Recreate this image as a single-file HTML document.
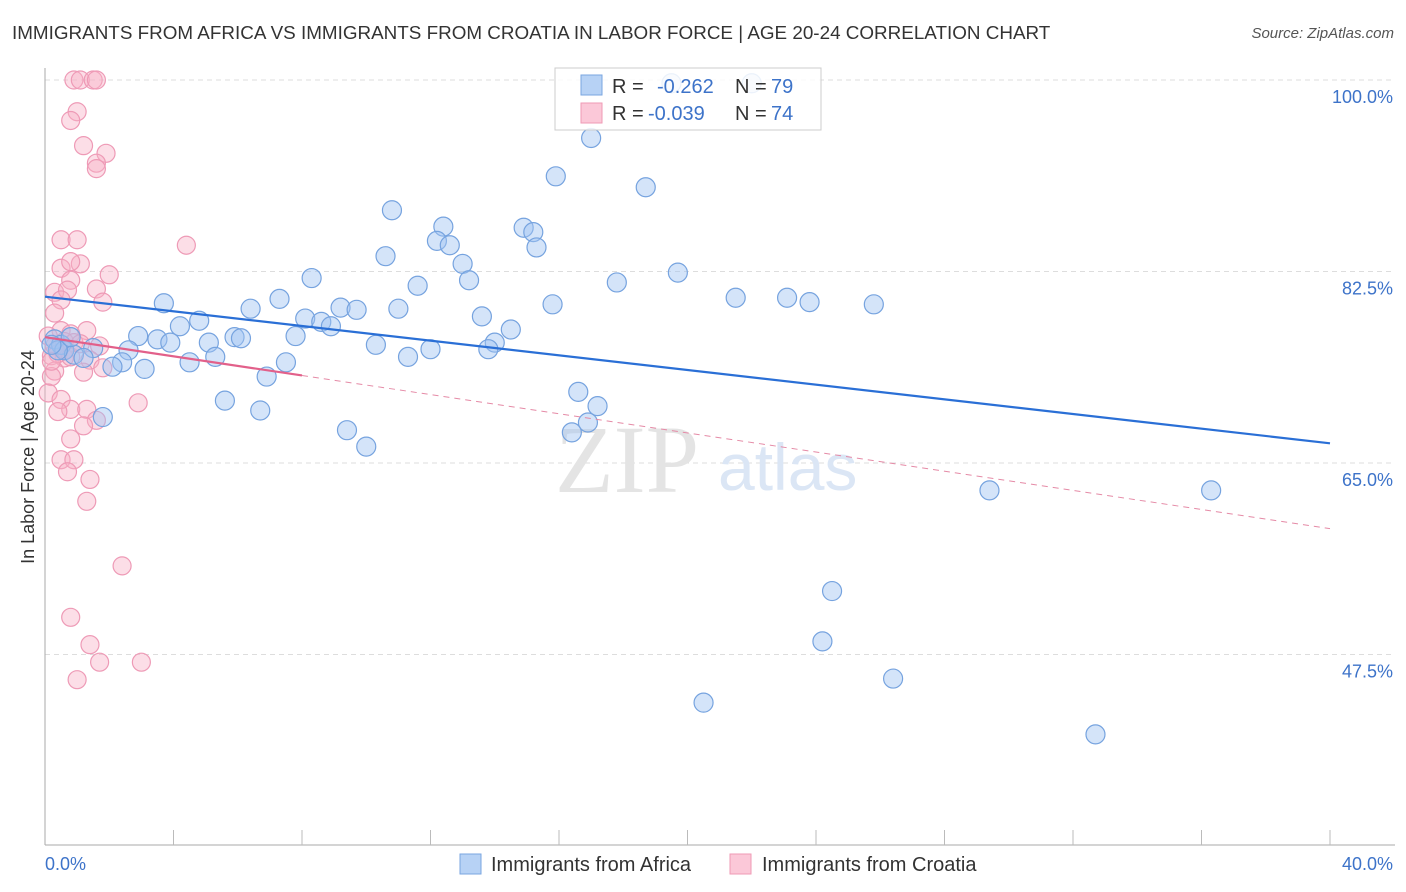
<!DOCTYPE html>
<html><head><meta charset="utf-8"><style>
body{margin:0;background:#fff;font-family:"Liberation Sans",sans-serif}
#wrap{position:relative;width:1406px;height:892px;overflow:hidden}
.t{position:absolute;white-space:nowrap}
</style></head><body>
<div id="wrap">
<div class="t" style="left:12px;top:22px;font-size:18.85px;color:#333">IMMIGRANTS FROM AFRICA VS IMMIGRANTS FROM CROATIA IN LABOR FORCE | AGE 20-24 CORRELATION CHART</div>
<div class="t" style="right:12px;top:25px;font-size:15px;color:#555;font-style:italic">Source: ZipAtlas.com</div>
<svg id="svg" width="1406" height="892" style="position:absolute;left:0;top:0"></svg>
</div>
<script>
const yTicks=[100,82.5,65,47.5];
const yTickLabels=["100.0%","82.5%","65.0%","47.5%"];
const africaX=[17.0,15.9,18.7,10.8,12.4,14.9,15.2,12.2,12.6,15.3,10.6,13.0,19.7,8.3,13.2,17.8,11.6,7.3,21.5,23.1,23.8,3.7,15.8,25.8,6.4,11.0,9.2,9.7,13.6,4.8,8.1,8.6,8.9,4.2,14.5,2.9,5.9,7.8,3.5,6.1,3.9,5.1,14.0,10.3,1.5,12.0,13.8,2.6,11.3,5.3,7.5,4.5,2.4,2.1,3.1,6.9,16.6,5.6,17.2,6.7,1.8,16.9,16.4,9.4,10.0,29.4,36.3,24.5,24.2,26.4,20.5,32.7,0.3,0.5,0.6,0.9,1.2,0.4,0.2,0.8,19.5,22.0];
const africaY=[94.7,91.2,90.2,88.1,86.6,86.5,86.1,85.3,84.9,84.7,83.9,83.2,82.4,81.9,81.7,81.5,81.2,80.0,80.1,80.1,79.7,79.6,79.5,79.5,79.1,79.1,79.2,79.0,78.4,78.0,78.2,77.9,77.5,77.5,77.2,76.6,76.5,76.6,76.3,76.4,76.0,76.0,76.0,75.8,75.5,75.4,75.4,75.3,74.7,74.7,74.2,74.2,74.2,73.8,73.6,72.9,71.5,70.7,70.2,69.8,69.2,68.7,67.8,68.0,66.5,62.5,62.5,53.3,48.7,45.3,43.1,40.2,76.3,75.8,75.3,74.9,74.6,75.3,75.8,76.5,99.7,99.7];
const croatiaX=[0.9,1.1,1.5,1.6,1.0,0.8,1.2,1.9,1.6,1.6,0.5,1.0,4.4,0.5,1.1,0.8,0.8,2.0,0.3,0.7,1.6,1.8,0.5,0.3,0.5,0.8,1.3,0.6,0.9,1.7,0.2,0.6,1.4,1.8,1.2,0.3,0.2,0.1,0.5,2.9,0.8,1.3,0.4,1.6,1.2,0.8,0.5,0.9,0.7,1.4,1.3,2.4,0.8,1.4,1.7,3.0,1.0,0.1,0.3,0.4,0.6,0.8,0.2,1.1];
const croatiaY=[100,100,100,100,97.1,96.3,94.0,93.3,92.4,91.9,85.4,85.4,84.9,82.8,83.2,83.4,81.7,82.2,80.6,80.8,80.9,79.7,79.9,78.7,77.1,76.8,77.1,76.1,76.0,75.7,74.8,74.6,74.4,73.7,73.3,73.4,72.9,71.4,70.8,70.5,69.9,69.9,69.7,68.9,68.4,67.2,65.3,65.3,64.2,63.5,61.5,55.6,50.9,48.4,46.8,46.8,45.2,76.6,75.7,75.0,75.3,74.7,74.3,75.9];
const africaLine=[80.2,66.8];
const croatiaLine=[76.5,59.0];
const xTickLabels=["0.0%","40.0%"];

const X0=45,X1=1330,YB=845;
const sx=v=>X0+(X1-X0)*v/40;
const sy=v=>80+(100-v)*10.943;
const svg=document.getElementById('svg');
const NS='http://www.w3.org/2000/svg';
function mk(tag,attrs,name){const e=document.createElementNS(NS,tag);for(const k in attrs)e.setAttribute(k,attrs[k]);


svg.appendChild(e);return e;}
yTicks.forEach((v,i)=>{
 mk('line',{x1:X0,x2:1395,y1:sy(v),y2:sy(v),stroke:'#ddd','stroke-dasharray':'5,4'},'gridline');
 const t=mk('text',{x:1393,y:sy(v)+23,'text-anchor':'end','font-size':18,fill:'#3d73c9'},'y-tick-label');t.textContent=yTickLabels[i];
});
mk('line',{x1:X0,x2:X0,y1:68,y2:YB,stroke:'#aaa'},'y-axis');
mk('line',{x1:X0,x2:1395,y1:YB,y2:YB,stroke:'#aaa'},'x-axis');
for(let i=1;i<=10;i++){mk('line',{x1:sx(i*4),x2:sx(i*4),y1:YB,y2:830,stroke:'#bbb'},'x-tick');}
let t=mk('text',{x:45,y:870,'font-size':18,fill:'#3d73c9'},'x-tick-label');t.textContent=xTickLabels[0];
t=mk('text',{x:1393,y:870,'text-anchor':'end','font-size':18,fill:'#3d73c9'},'x-tick-label');t.textContent=xTickLabels[1];
t=mk('text',{x:34,y:457,'text-anchor':'middle','font-size':18,fill:'#333',transform:'rotate(-90 34 457)'},'y-axis-title');t.textContent='In Labor Force | Age 20-24';
t=mk('text',{x:555,y:492,'font-size':96,fill:'#e4e4e4','font-family':'Liberation Serif'},'watermark-zip');t.textContent='ZIP';
t=mk('text',{x:718,y:490,'font-size':66,fill:'#dbe6f5'},'watermark-atlas');t.textContent='atlas';
croatiaX.forEach((x,i)=>mk('circle',{cx:sx(x),cy:sy(croatiaY[i]),r:9,fill:'rgba(248,176,198,0.42)',stroke:'#ee9ab6','stroke-width':1.2},'croatia-point'));
africaX.forEach((x,i)=>mk('circle',{cx:sx(x),cy:sy(africaY[i]),r:9.5,fill:'rgba(160,196,242,0.45)',stroke:'#76a3df','stroke-width':1.2},'africa-point'));
mk('line',{x1:sx(0),y1:sy(africaLine[0]),x2:sx(40),y2:sy(africaLine[1]),stroke:'#2a6fd6','stroke-width':2.2},'africa-trend-line');
const cy=x=>croatiaLine[0]+(croatiaLine[1]-croatiaLine[0])*x/40;
mk('line',{x1:sx(0),y1:sy(cy(0)),x2:sx(8),y2:sy(cy(8)),stroke:'#e2608a','stroke-width':2.2},'croatia-trend-line');
mk('line',{x1:sx(8),y1:sy(cy(8)),x2:sx(40),y2:sy(cy(40)),stroke:'#e58aa6','stroke-width':1,'stroke-dasharray':'6,5'},'croatia-trend-dashed');
mk('rect',{x:555,y:68,width:266,height:62,fill:'rgba(255,255,255,0.85)',stroke:'#ccc'},'stats-legend');
mk('rect',{x:581,y:75,width:21,height:20,fill:'#b7d2f5',stroke:'#7aa6e0'},'africa-swatch');
mk('rect',{x:581,y:103,width:21,height:20,fill:'#fbc8d8',stroke:'#ef9ab5'},'croatia-swatch');
function lt(x,y,s,c,n){const e=mk('text',{x:x,y:y,'font-size':20,fill:c},n);e.textContent=s;}
lt(612,93,'R = ','#333','legend-r-label');lt(657,93,'-0.262','#3d73c9','africa-r-value');
lt(735,93,'N = ','#333','legend-n-label');lt(771,93,'79','#3d73c9','africa-n-value');
lt(612,120,'R = ','#333','legend-r-label');lt(648,120,'-0.039','#3d73c9','croatia-r-value');
lt(735,120,'N = ','#333','legend-n-label');lt(771,120,'74','#3d73c9','croatia-n-value');
mk('rect',{x:460,y:854,width:21,height:20,fill:'#b7d2f5',stroke:'#7aa6e0'},'legend-africa-swatch');
lt(491,871,'Immigrants from Africa','#333','legend-africa-label');
mk('rect',{x:730,y:854,width:21,height:20,fill:'#fbc8d8',stroke:'#ef9ab5'},'legend-croatia-swatch');
lt(762,871,'Immigrants from Croatia','#333','legend-croatia-label');
</script>
</body></html>
